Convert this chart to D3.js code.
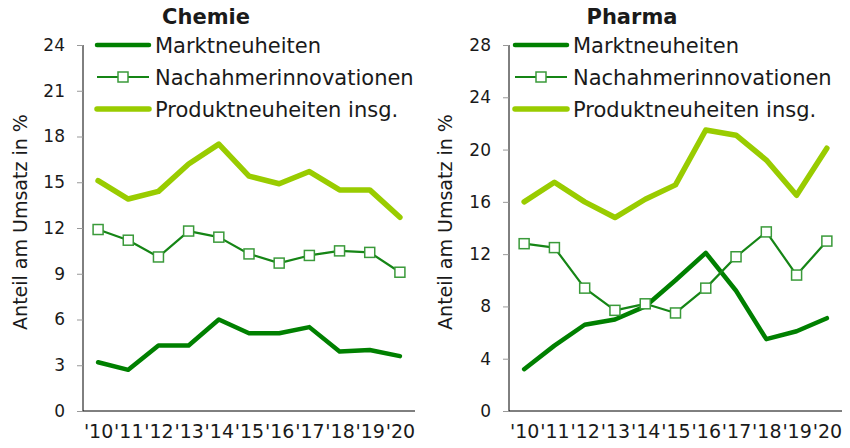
<!DOCTYPE html>
<meta charset="utf-8">
<style>
body { margin: 0; background: #fff; }
text { font-family: "DejaVu Sans", Verdana, sans-serif; fill: #1a1a1a; }
.line { fill: none; stroke-linejoin: round; stroke-linecap: round; }
</style>
<svg width="850" height="448"></svg>
<script src="https://cdn.jsdelivr.net/npm/d3@7"></script>
<script>
var years = ["'10", "'11", "'12", "'13", "'14", "'15", "'16", "'17", "'18", "'19", "'20"];
var seriesNames = ["Marktneuheiten", "Nachahmerinnovationen", "Produktneuheiten insg."];

var chemieMarkt    = [3.2, 2.7, 4.3, 4.3, 6.0, 5.1, 5.1, 5.5, 3.9, 4.0, 3.6];
var chemieNachahm  = [11.9, 11.2, 10.1, 11.8, 11.4, 10.3, 9.7, 10.2, 10.5, 10.4, 9.1];
var chemieProdukt  = [15.1, 13.9, 14.4, 16.2, 17.5, 15.4, 14.9, 15.7, 14.5, 14.5, 12.7];

var pharmaMarkt    = [3.2, 5.0, 6.6, 7.0, 8.0, 10.0, 12.1, 9.2, 5.5, 6.1, 7.1];
var pharmaNachahm  = [12.8, 12.5, 9.4, 7.7, 8.2, 7.5, 9.4, 11.8, 13.7, 10.4, 13.0];
var pharmaProdukt  = [16.0, 17.5, 16.0, 14.8, 16.2, 17.3, 21.5, 21.1, 19.2, 16.5, 20.1];

var chemieTicks = [0, 3, 6, 9, 12, 15, 18, 21, 24];
var pharmaTicks = [0, 4, 8, 12, 16, 20, 24, 28];

var styles = [
  {color: "#008000", width: 4.5, marker: false},
  {color: "#158515", width: 2.2, marker: true},
  {color: "#99cc00", width: 5.5, marker: false}
];

var svg = d3.select("svg");

var panels = [
  {title: "Chemie", titleX: 206, left: 83, right: 415, ticks: chemieTicks, series: [chemieMarkt, chemieNachahm, chemieProdukt], legendX: 97, yTitleX: 27},
  {title: "Pharma", titleX: 632, left: 509, right: 842, ticks: pharmaTicks, series: [pharmaMarkt, pharmaNachahm, pharmaProdukt], legendX: 515, yTitleX: 452}
];

var plotTop = 45, plotBottom = 411;

panels.forEach(function(p) {
  var g = svg.append("g");

  var x = d3.scalePoint().domain(years).range([p.left, p.right]).padding(0.5);
  var y = d3.scaleLinear().domain([0, d3.max(p.ticks)]).range([plotBottom, plotTop]);

  // y axis
  var yAxis = g.append("g")
      .attr("transform", "translate(" + p.left + ",0)")
      .call(d3.axisLeft(y).tickValues(p.ticks).tickSize(6).tickPadding(12));
  yAxis.select(".domain").attr("stroke", "#000").attr("d", "M0," + plotTop + "V" + plotBottom);
  yAxis.selectAll(".tick line").attr("stroke", "#999");
  yAxis.selectAll(".tick text")
      .style("font-size", "17px")
      .attr("fill", "#1a1a1a");

  // x axis
  var xAxis = g.append("g")
      .attr("transform", "translate(0," + plotBottom + ")")
      .call(d3.axisBottom(x).tickSize(0).tickPadding(14));
  xAxis.select(".domain").attr("stroke", "#000").attr("d", "M" + p.left + ",0H" + p.right);
  xAxis.selectAll(".tick text")
      .style("font-size", "19px")
      .attr("fill", "#1a1a1a");

  // axis title
  g.append("text")
      .attr("transform", "translate(" + p.yTitleX + "," + 222 + ") rotate(-90)")
      .attr("text-anchor", "middle")
      .style("font-size", "19px")
      .text("Anteil am Umsatz in %");

  // panel title
  g.append("text")
      .attr("x", p.titleX)
      .attr("y", 24)
      .attr("text-anchor", "middle")
      .style("font-size", "21px")
      .style("font-weight", "bold")
      .text(p.title);

  var line = d3.line()
      .x(function(d, i) { return x(years[i]); })
      .y(function(d) { return y(d); });

  [0, 1, 2].forEach(function(k) {
    g.append("path")
        .datum(p.series[k])
        .attr("class", "line")
        .attr("stroke", styles[k].color)
        .attr("stroke-width", styles[k].width)
        .attr("d", line);
    if (styles[k].marker) {
      g.selectAll(".mk" + k)
        .data(p.series[k])
        .enter().append("rect")
          .attr("class", "mk" + k)
          .attr("x", function(d, i) { return x(years[i]) - 5; })
          .attr("y", function(d) { return y(d) - 5; })
          .attr("width", 10)
          .attr("height", 10)
          .attr("fill", "#fff")
          .attr("stroke", "#3a9a3a")
          .attr("stroke-width", 1.5);
    }
  });

  // legend
  var rows = [45, 77, 109];
  seriesNames.forEach(function(name, k) {
    var lg = g.append("g").attr("transform", "translate(" + p.legendX + "," + rows[k] + ")");
    lg.append("line")
        .attr("x1", 0).attr("x2", 52)
        .attr("stroke", styles[k].color)
        .attr("stroke-width", styles[k].width)
        .attr("stroke-linecap", styles[k].marker ? "butt" : "round");
    if (styles[k].marker) {
      lg.append("rect")
          .attr("x", 21).attr("y", -5)
          .attr("width", 10).attr("height", 10)
          .attr("fill", "#fff")
          .attr("stroke", "#3a9a3a")
          .attr("stroke-width", 1.5);
    }
    lg.append("text")
        .attr("x", 58)
        .attr("dy", "0.36em")
        .style("font-size", "21px")
        .text(name);
  });
});
</script>
